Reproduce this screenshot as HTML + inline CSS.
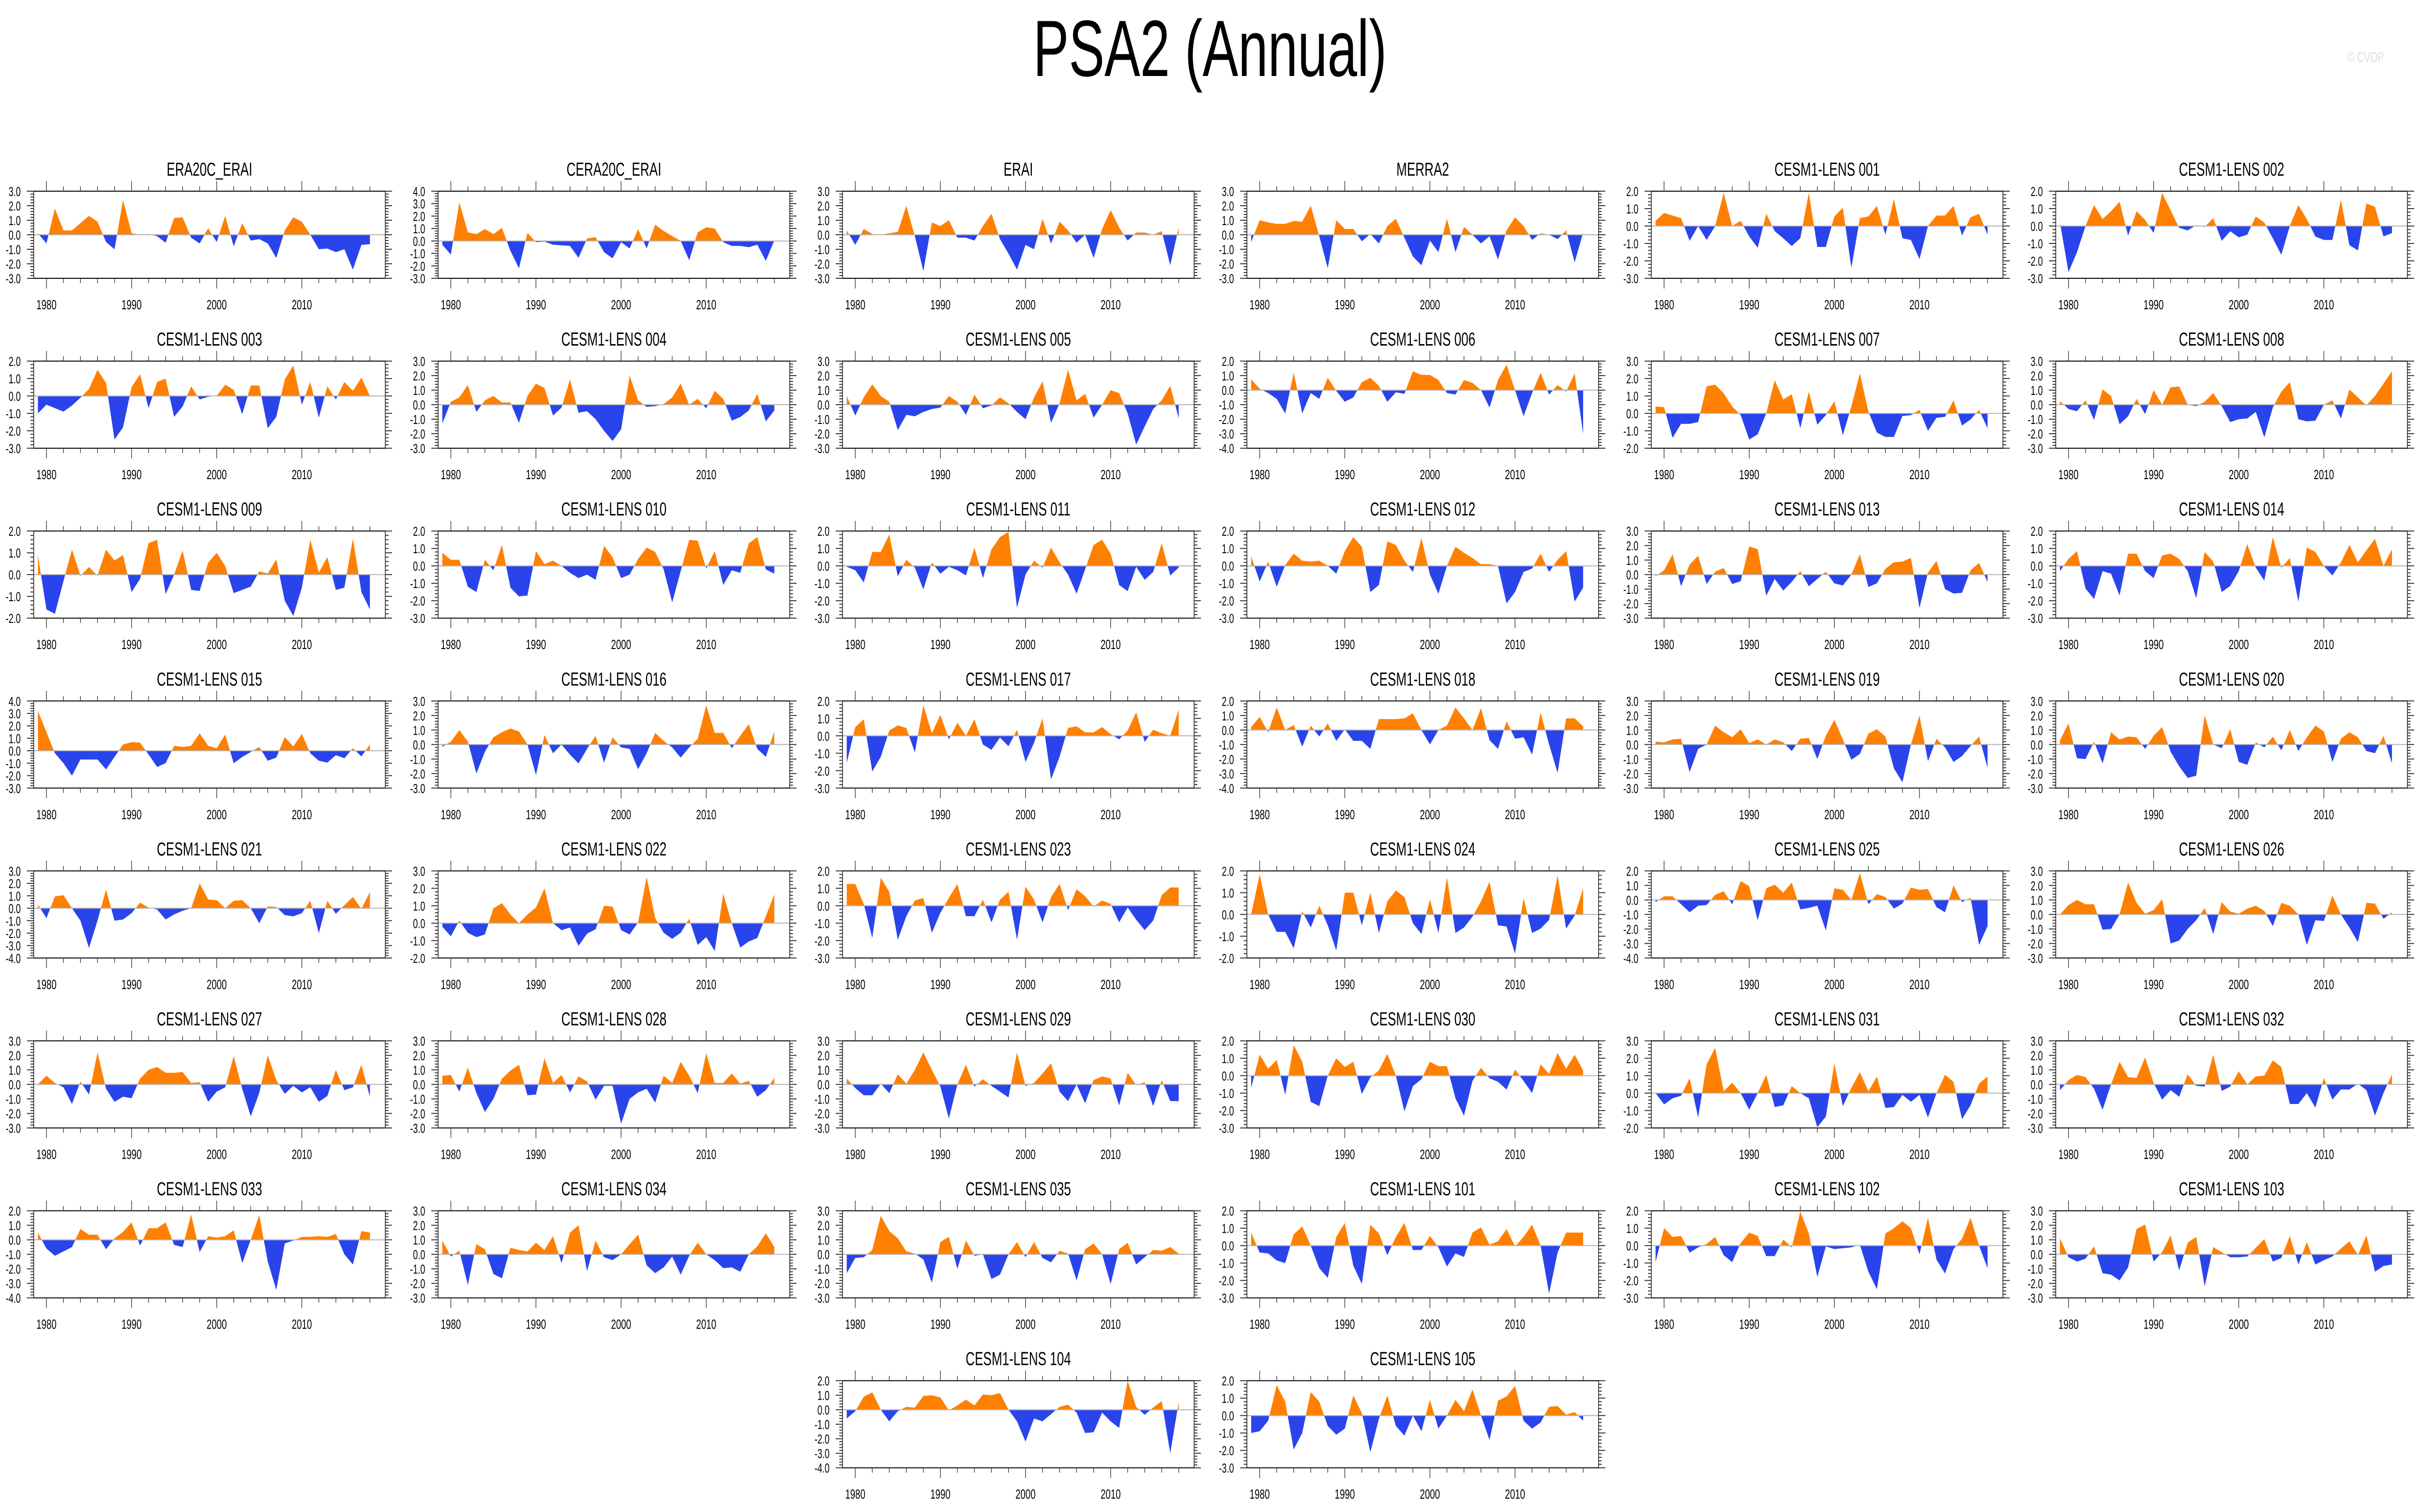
<!DOCTYPE html>
<html><head><meta charset="utf-8"><title>PSA2 (Annual)</title>
<style>
html,body{margin:0;padding:0;background:#fff;overflow:hidden;width:100%;height:100%;}
svg{display:block;font-family:"Liberation Sans",sans-serif;width:100vw;height:100vh;}
</style></head>
<body>
<svg id="chart" viewBox="0 0 7468 3124" preserveAspectRatio="none" xmlns="http://www.w3.org/2000/svg">
<rect x="0" y="0" width="7468" height="3124" fill="#fff"/>
<text x="3734" y="157" text-anchor="middle" font-size="165" fill="#000">PSA2 (Annual)</text>
<text x="7300" y="128" text-anchor="middle" font-size="30" fill="#dcdcdc">© CVDP</text>
<g id="panels"></g>
</svg>
<script>
const years = [1979,1980,1981,1982,1983,1984,1985,1986,1987,1988,1989,1990,1991,1992,1993,1994,1995,1996,1997,1998,1999,2000,2001,2002,2003,2004,2005,2006,2007,2008,2009,2010,2011,2012,2013,2014,2015,2016,2017,2018];
const xTickLabels = [1980,1990,2000,2010];
const panelNames = ["ERA20C_ERAI","CERA20C_ERAI","ERAI","MERRA2","CESM1-LENS 001","CESM1-LENS 002","CESM1-LENS 003","CESM1-LENS 004","CESM1-LENS 005","CESM1-LENS 006","CESM1-LENS 007","CESM1-LENS 008","CESM1-LENS 009","CESM1-LENS 010","CESM1-LENS 011","CESM1-LENS 012","CESM1-LENS 013","CESM1-LENS 014","CESM1-LENS 015","CESM1-LENS 016","CESM1-LENS 017","CESM1-LENS 018","CESM1-LENS 019","CESM1-LENS 020","CESM1-LENS 021","CESM1-LENS 022","CESM1-LENS 023","CESM1-LENS 024","CESM1-LENS 025","CESM1-LENS 026","CESM1-LENS 027","CESM1-LENS 028","CESM1-LENS 029","CESM1-LENS 030","CESM1-LENS 031","CESM1-LENS 032","CESM1-LENS 033","CESM1-LENS 034","CESM1-LENS 035","CESM1-LENS 101","CESM1-LENS 102","CESM1-LENS 103","CESM1-LENS 104","CESM1-LENS 105"];
const yMins = [-3,-3,-3,-3,-3,-3, -3,-3,-3,-4,-2,-3, -2,-3,-3,-3,-3,-3, -3,-3,-3,-4,-3,-3, -4,-2,-3,-2,-4,-3, -3,-3,-3,-3,-2,-3, -4,-3,-3,-3,-3,-3, -4,-3];
const yMaxs = [3,4,3,3,2,2, 2,3,3,2,3,3, 2,2,2,2,3,2, 4,3,2,2,3,3, 3,3,2,2,2,3, 3,3,3,2,3,3, 2,3,3,2,2,3, 2,2];

const s_era20c = [0.1,-0.6,1.8,0.3,0.3,0.8,1.3,0.9,-0.5,-1.0, 2.4,0.1,0.0,0.05,-0.1,-0.55,1.15,1.2,-0.2,-0.6, 0.45,-0.5,1.3,-0.8,0.8,-0.4,-0.3,-0.6,-1.6,0.3, 1.2,0.9,0.0,-1.0,-0.95,-1.2,-1.0,-2.4,-0.7,-0.65];
const s_cera20c = [-0.3,-1.1,3.1,0.7,0.55,0.95,0.55,1.05,-0.8,-2.2, 0.65,-0.1,-0.05,-0.3,-0.35,-0.4,-1.35,0.2,0.3,-0.9, -1.4,-0.1,-0.6,0.95,-0.6,1.3,0.8,0.4,0.0,-1.55, 0.7,1.1,1.0,-0.1,-0.4,-0.4,-0.5,-0.3,-1.6,0.05];
const s_erai = [0.3,-0.7,0.4,0.05,0.0,0.1,0.2,2.0,-0.1,-2.5, 0.85,0.6,1.0,-0.2,-0.2,-0.4,0.6,1.45,-0.3,-1.3, -2.4,-0.7,-1.0,1.1,-0.6,0.9,0.3,-0.55,0.0,-1.6, 0.4,1.7,0.5,-0.4,0.15,0.15,0.0,0.25,-2.1,0.5];
const s_merra2 = [-0.5,1.0,0.85,0.75,0.75,0.95,0.9,2.0,-0.1,-2.3, 1.0,0.4,0.4,-0.45,0.05,-0.6,0.6,1.1,-0.2,-1.5, -2.1,-0.4,-1.2,1.1,-1.2,0.55,0.0,-0.6,-0.1,-1.7, 0.3,1.2,0.6,-0.35,0.1,0.0,-0.3,0.3,-1.9,0.15];
const s_001 = [0.3,0.75,0.6,0.45,-0.85,0.0,-0.8,0.0,1.9,0.0, 0.3,-0.6,-1.25,0.7,-0.3,-0.7,-1.15,-0.7,1.9,-1.2, -1.2,0.55,1.05,-2.4,0.45,0.55,1.15,-0.5,1.55,-0.7, -0.8,-1.9,0.0,0.6,0.6,1.15,-0.55,0.5,0.7,-0.5];
const s_002 = [0.2,-2.65,-1.5,0.0,1.2,0.4,0.85,1.4,-0.55,0.85, 0.35,-0.4,1.9,0.9,-0.1,-0.25,0.05,-0.05,0.45,-0.85, -0.3,-0.65,-0.5,0.55,0.2,-0.7,-1.65,0.0,1.2,0.4, -0.6,-0.8,-0.8,1.5,-1.1,-1.4,1.3,1.1,-0.6,-0.4];
const s_003 = [-1.0,-0.5,-0.7,-0.9,-0.55,-0.1,0.4,1.5,0.75,-2.5, -1.8,0.5,1.25,-0.7,0.8,1.0,-1.2,-0.6,0.55,-0.2, -0.05,0.0,0.65,0.35,-1.05,0.6,0.6,-1.85,-1.2,0.95, 1.75,-0.5,0.8,-1.25,0.55,-0.2,0.8,0.3,1.05,0.0];
const s_004 = [-1.3,0.2,0.5,1.35,-0.5,0.3,0.6,0.15,0.15,-1.25, 0.6,1.45,1.15,-0.75,-0.2,1.75,-0.55,-0.45,-1.0,-1.8, -2.5,-1.7,2.0,0.3,-0.15,-0.1,0.05,0.5,1.45,0.0, 0.4,-0.25,0.95,0.4,-1.1,-0.85,-0.4,0.75,-1.15,-0.4];
const s_005 = [0.6,-0.75,0.5,1.4,0.6,0.2,-1.75,-0.7,-0.8,-0.5, -0.3,-0.2,0.6,0.2,-0.7,0.7,-0.25,-0.05,0.5,0.1, -0.5,-1.0,0.5,1.6,-1.25,0.1,2.4,0.3,0.75,-0.9, 0.0,1.0,0.8,-0.6,-2.75,-1.5,-0.3,0.3,1.3,-0.95];
const s_006 = [0.75,0.1,-0.2,-0.6,-1.6,1.2,-1.6,-0.2,-0.6,0.85, -0.05,-0.8,-0.5,0.55,0.85,0.3,-0.8,-0.15,-0.25,1.3, 1.05,1.05,0.7,-0.2,-0.3,0.7,0.5,0.0,-1.2,0.7, 1.75,0.0,-1.8,-0.2,1.2,-0.3,0.35,-0.1,1.15,-3.0];
const s_007 = [0.4,0.35,-1.4,-0.6,-0.6,-0.5,1.55,1.65,1.15,0.4, -0.1,-1.5,-1.2,0.0,1.9,0.8,1.1,-0.85,1.25,-0.65, -0.1,0.7,-1.25,0.4,2.3,0.1,-1.1,-1.35,-1.35,-0.15, -0.1,0.2,-1.0,-0.25,-0.2,0.75,-0.7,-0.35,0.2,-0.85];
const s_008 = [0.25,-0.3,-0.45,0.3,-1.05,1.05,0.6,-1.35,-0.8,0.4, -0.65,1.0,0.0,1.2,1.25,0.0,-0.1,0.2,0.8,-0.1, -1.2,-1.0,-0.95,-0.5,-2.25,-0.2,0.9,1.55,-1.0,-1.15, -1.1,0.0,0.3,-0.95,1.05,0.5,-0.05,0.6,1.45,2.3];
const s_009 = [0.9,-1.6,-1.8,-0.3,1.15,-0.05,0.35,-0.05,1.15,0.65, 0.9,-0.8,-0.2,1.45,1.6,-0.9,0.0,1.1,-0.7,-0.75, 0.55,1.0,0.4,-0.85,-0.7,-0.55,0.15,0.05,0.7,-1.2, -1.9,-0.6,1.6,0.1,0.8,-0.7,-0.6,1.65,-0.8,-1.6];
const s_010 = [0.75,0.35,0.35,-1.2,-1.5,0.35,-0.25,1.2,-1.25,-1.75, -1.7,0.85,0.1,0.3,0.0,-0.4,-0.7,-0.5,-0.8,1.15, 0.5,-0.7,-0.5,0.4,1.05,0.8,-0.2,-2.1,-0.3,1.5, 1.45,-0.15,0.85,-1.1,-0.25,-0.4,1.3,1.65,-0.2,-0.45];
const s_011 = [-0.05,-0.25,-0.95,0.8,0.8,1.8,-0.6,0.35,-0.1,-1.35, 0.2,-0.45,-0.05,-0.25,-0.55,1.05,-0.7,0.95,1.65,1.95, -2.4,-0.5,0.3,-0.1,1.05,0.2,-0.5,-1.6,-0.2,1.2, 1.5,0.7,-1.1,-1.45,-0.05,-0.8,-0.35,1.3,-0.55,-0.1];
const s_012 = [0.55,-0.9,0.25,-1.2,0.05,0.7,0.3,0.25,0.3,0.0, -0.45,0.85,1.65,1.1,-1.5,-1.1,1.4,1.2,0.3,-0.35, 1.6,-0.5,-1.6,0.0,1.1,0.75,0.45,0.1,0.1,0.0, -2.15,-1.5,-0.35,-0.15,0.7,-0.35,0.35,0.85,-2.05,-1.25];
const s_013 = [-0.1,0.3,1.4,-0.8,0.7,1.3,-0.65,0.2,0.45,-0.65, -0.45,1.95,1.75,-1.45,-0.3,-1.1,-0.5,0.25,-0.8,-0.3, 0.2,-0.6,-0.75,0.0,1.4,-0.85,-0.6,0.4,0.85,0.9, 1.15,-2.3,0.15,0.95,-1.0,-1.3,-1.25,0.3,0.8,-0.5];
const s_014 = [-0.3,0.4,0.85,-1.3,-1.9,-0.3,-0.45,-1.7,0.7,0.7, -0.3,-0.7,0.6,0.7,0.4,-0.3,-1.85,0.8,0.25,-1.5, -1.15,-0.3,1.25,-0.1,-0.85,1.65,-0.1,0.45,-2.05,1.05, 0.8,0.0,-0.55,0.2,1.2,0.2,0.9,1.55,0.0,0.95];
const s_015 = [3.2,1.5,-0.2,-1.0,-2.0,-0.7,-0.7,-0.7,-1.5,-0.5, 0.5,0.7,0.65,-0.3,-1.3,-1.0,0.4,0.3,0.4,1.4, 0.4,0.2,1.3,-1.0,-0.5,-0.1,0.3,-0.8,-0.55,1.1, 0.35,1.35,-0.2,-0.8,-0.95,-0.35,-0.6,0.2,-0.45,0.5];
const s_016 = [-0.15,0.2,1.0,0.2,-2.0,-0.5,0.5,0.85,1.1,0.9, 0.0,-2.1,0.65,-0.6,0.0,-0.7,-1.3,-0.3,0.6,-1.25, 0.5,-0.2,-0.3,-1.7,-0.6,0.8,0.25,-0.2,-0.9,-0.2, 0.4,2.7,0.8,0.8,-0.25,0.6,1.4,-0.3,-0.85,0.9];
const s_017 = [-1.55,0.5,0.95,-2.05,-1.2,0.3,0.6,0.45,-0.95,1.75, 0.15,1.2,-0.2,0.75,0.0,0.95,-0.5,-0.8,-0.1,-0.6, 0.35,-1.5,-0.4,1.0,-2.5,-1.2,0.45,0.55,0.2,0.2, 0.5,0.1,-0.2,0.3,1.35,-0.35,0.35,0.15,0.0,1.5];
const s_018 = [0.2,0.9,-0.15,1.55,0.0,0.35,-1.15,0.3,-0.45,0.45, -0.75,0.05,-0.75,-0.75,-1.3,0.75,0.75,0.75,0.8,1.15, 0.0,-1.0,0.0,0.3,1.55,0.8,0.0,1.5,-0.7,-1.3, 0.6,-0.6,-0.5,-1.7,1.2,-1.0,-2.95,0.8,0.8,0.25];
const s_019 = [0.2,0.15,0.35,0.4,-1.9,-0.3,0.0,1.3,0.85,0.5, 1.05,0.1,0.35,0.0,0.35,0.15,-0.45,0.4,0.45,-1.0, 0.6,1.7,0.35,-1.05,-0.65,0.75,1.05,0.55,-1.65,-2.6, 0.0,2.0,-1.15,0.4,-0.2,-1.2,-0.8,-0.1,0.55,-1.6];
const s_020 = [0.3,1.45,-0.95,-1.0,0.2,-1.3,0.85,0.35,0.55,0.5, -0.3,0.6,1.2,-0.5,-1.5,-2.3,-2.15,2.0,0.0,-0.25, 1.05,-1.2,-1.4,0.15,-0.2,0.55,-0.4,1.0,-0.45,0.5, 1.3,0.9,-1.2,0.4,0.85,0.5,-0.45,-0.6,0.6,-1.3];
const s_021 = [0.3,-0.8,0.95,1.05,0.0,-1.0,-3.2,-1.0,1.5,-1.0, -0.9,-0.4,0.45,0.05,-0.1,-0.9,-0.5,-0.2,0.0,2.0, 0.7,0.65,0.0,0.6,0.65,0.0,-1.2,0.15,0.1,-0.55, -0.65,-0.4,0.6,-2.0,0.6,-0.45,0.25,0.9,-0.05,1.3];
const s_022 = [-0.2,-0.75,0.15,-0.55,-0.8,-0.65,0.85,1.15,0.5,0.0, 0.5,0.9,2.0,0.0,-0.4,-0.25,-1.3,-0.6,-0.35,1.0, 0.95,-0.4,-0.65,0.05,2.65,0.3,-0.55,-0.9,-0.55,0.25, -1.25,-0.8,-1.6,1.7,0.0,-1.4,-1.05,-0.85,0.4,1.65];
const s_023 = [1.25,1.25,0.1,-1.85,1.6,0.8,-1.95,-0.6,0.3,0.45, -1.55,-0.4,0.45,1.25,-0.6,-0.6,0.35,-0.95,0.35,0.8, -1.95,1.1,0.35,-0.95,0.5,1.25,-0.25,0.95,0.55,-0.05, 0.3,0.1,-0.95,-0.1,-0.8,-1.4,-0.85,0.6,1.05,1.05];
const s_024 = [0.0,1.85,0.0,-0.8,-0.8,-1.55,0.15,-0.6,0.4,-0.5, -1.65,1.0,1.0,-0.5,1.0,-0.85,0.6,1.1,0.8,-0.4, -0.9,0.7,-0.85,1.7,-0.85,-0.6,-0.1,0.6,1.5,-0.5, -0.55,-1.8,0.75,-0.85,-0.65,-0.25,1.8,-0.65,-0.05,1.2];
const s_025 = [-0.15,0.25,0.25,-0.3,-0.85,-0.4,-0.35,0.35,0.6,-0.3, 1.3,0.95,-1.4,0.8,1.05,0.5,1.2,-0.65,-0.55,-0.4, -2.1,0.8,0.7,0.0,1.85,-0.3,0.4,0.2,-0.6,-0.25, 0.85,0.7,0.75,-0.5,-0.85,1.0,-0.15,0.15,-3.1,-1.8];
const s_026 = [0.0,0.65,1.0,0.7,0.7,-1.05,-1.0,0.0,2.2,0.8, 0.05,0.3,1.05,-2.0,-1.8,-1.0,-0.4,0.45,-1.35,0.85, 0.2,0.05,0.4,0.6,0.25,-0.8,0.8,0.6,0.0,-2.1, -0.4,-0.45,1.3,0.0,-0.9,-1.9,0.8,0.75,-0.3,0.15];
const s_027 = [0.0,0.6,0.1,-0.2,-1.35,0.2,-0.7,2.2,-0.3,-1.2, -0.85,-0.95,0.4,1.0,1.2,0.8,0.8,0.85,0.1,0.15, -1.2,-0.5,-0.2,1.95,-0.3,-2.2,-0.6,2.0,0.3,-0.65, -0.1,-0.55,-0.2,-1.2,-0.8,1.0,-0.4,-0.2,1.35,-0.85];
const s_028 = [0.6,0.65,-0.5,1.15,-0.6,-1.9,-1.0,0.4,0.95,1.35, -0.75,-0.7,1.8,0.1,0.65,-0.55,0.55,0.2,-1.05,-0.1, -0.1,-2.7,-1.0,-0.55,-0.3,-1.25,0.6,0.1,1.55,0.6, -0.6,2.15,0.1,0.1,0.75,0.05,0.25,-0.85,-0.4,0.45];
const s_029 = [0.4,-0.25,-0.75,-0.75,0.05,-0.6,0.7,0.05,1.0,2.2, 1.0,-0.15,-2.35,0.0,1.35,-0.15,0.35,-0.1,-0.5,-0.9, 2.2,-0.1,0.1,0.75,1.45,-0.5,-1.15,0.0,-1.3,0.3, 0.55,0.4,-1.45,0.8,-0.05,0.15,-1.5,0.3,-1.15,-1.15];
const s_030 = [-0.7,1.2,0.4,0.9,-1.1,1.75,0.8,-1.5,-1.75,0.0, 1.0,0.5,0.8,-1.05,-0.1,0.3,1.25,0.0,-2.05,-0.6, -0.2,0.8,0.55,0.55,-1.3,-2.3,-0.3,0.45,-0.15,-0.35, -0.8,0.35,-0.3,-1.0,0.65,0.1,1.3,0.4,1.2,0.3];
const s_031 = [0.0,-0.65,-0.3,-0.15,0.85,-1.4,1.65,2.6,0.1,0.6, 0.0,-0.95,0.0,1.05,-0.8,-0.7,0.4,0.0,-0.3,-1.95, -1.35,1.7,-0.75,0.3,1.2,0.1,0.95,-0.85,-0.8,-0.1, -0.5,-0.1,-1.4,0.0,1.05,0.65,-1.5,-0.7,0.55,0.95];
const s_032 = [-0.4,0.3,0.65,0.5,-0.3,-1.75,0.0,1.55,0.5,0.45, 1.85,0.1,-1.05,-0.4,-0.85,0.7,-0.1,-0.15,2.05,-0.45, -0.15,0.9,0.0,0.55,0.6,1.65,1.2,-1.35,-1.35,-0.6, -1.6,0.45,-1.05,-0.35,-0.35,0.05,-0.4,-2.15,-0.6,0.7];
const s_033 = [0.5,-0.6,-1.1,-0.8,-0.5,0.75,0.35,0.35,-0.65,0.1, 0.55,1.2,-0.4,0.8,0.8,1.2,-0.35,-0.5,1.75,-0.85, 0.25,0.15,0.25,0.65,-1.6,0.0,1.7,-1.5,-3.45,-0.25, -0.05,0.2,0.2,0.25,0.2,0.4,-1.0,-1.7,0.6,0.5];
const s_034 = [0.95,-0.15,0.25,-2.1,0.7,0.35,-1.35,-1.65,0.45,0.3, 0.2,0.8,0.3,1.25,-0.6,1.5,2.0,-1.15,0.95,-0.2, -0.4,0.0,0.7,1.35,-0.75,-1.3,-0.9,-0.15,-1.4,-0.1, 0.8,0.0,-0.4,-0.95,-0.9,-1.2,0.0,0.55,1.45,0.5];
const s_035 = [-1.3,-0.25,-0.2,0.3,2.65,1.6,1.1,0.2,0.05,-0.35, -1.95,0.85,1.2,-1.0,0.95,-0.1,0.0,-1.7,-1.4,0.0, 0.85,-0.2,0.85,-0.25,-0.55,0.25,0.05,-1.8,0.35,0.75, 0.0,-2.05,0.35,0.8,-0.7,-0.2,0.3,0.25,0.5,0.05];
const s_101 = [0.75,-0.4,-0.45,-0.85,-1.0,0.65,1.1,0.0,-1.3,-1.85, 0.5,1.3,-1.15,-2.2,1.2,0.7,-0.55,0.5,1.3,-0.25, -0.25,0.55,-0.1,-1.2,-0.45,-0.65,0.75,1.05,0.05,0.25, 0.95,-0.05,0.5,1.2,0.0,-2.75,-0.4,0.75,0.75,0.75];
const s_102 = [-0.95,1.0,0.5,0.55,-0.4,-0.1,0.1,0.5,-0.55,-0.95, 0.15,0.75,0.55,-0.6,-0.6,0.35,-0.1,1.95,0.7,-1.8, -0.05,-0.2,-0.15,-0.1,0.05,-1.5,-2.5,0.7,1.0,1.4, 1.0,-0.5,1.6,-0.8,-1.6,-0.2,0.4,1.6,0.0,-1.3];
const s_103 = [1.1,-0.2,-0.5,-0.3,0.55,-1.3,-1.4,-1.8,-0.9,1.75, 2.05,-0.5,0.15,1.3,-1.1,0.8,1.2,-2.2,0.5,0.15, -0.2,-0.2,-0.15,0.45,1.05,-0.5,-0.25,1.25,-0.7,0.85, -0.7,-0.4,-0.15,0.4,0.9,-0.05,1.3,-1.2,-0.8,-0.7];
const s_104 = [-0.6,-0.1,0.9,1.2,0.0,-0.8,-0.1,0.2,0.15,0.95, 1.0,0.85,-0.05,0.3,0.7,0.3,1.05,1.0,1.15,0.0, -0.8,-2.2,-0.6,-0.8,-0.3,0.2,0.35,-0.2,-1.6,-1.55, -0.2,-0.8,-1.25,2.0,0.2,-0.35,0.15,0.6,-3.0,0.55];
const s_105 = [-1.0,-0.9,-0.3,1.75,0.8,-1.95,-1.0,1.35,0.8,-0.6, -1.1,-0.75,1.15,0.15,-2.1,-0.2,1.15,-0.6,-1.15,0.0, -0.9,0.9,-0.75,0.0,0.9,0.25,1.5,0.0,-1.4,0.85, 1.1,1.7,-0.3,-0.75,-0.4,0.5,0.55,0.05,0.2,-0.3];

const panelSeries = [s_era20c,s_cera20c,s_erai,s_merra2,s_001,s_002,s_003,s_004,s_005,s_006,s_007,s_008,s_009,s_010,s_011,s_012,s_013,s_014,s_015,s_016,s_017,s_018,s_019,s_020,s_021,s_022,s_023,s_024,s_025,s_026,s_027,s_028,s_029,s_030,s_031,s_032,s_033,s_034,s_035,s_101,s_102,s_103,s_104,s_105];

const NS = "http://www.w3.org/2000/svg";
const root = document.getElementById("panels");
const FW = 1085, FH = 180, COLP = 1248, ROWP = 351.1, L0 = 104, T0 = 395;
const yearStep = 26.27;

function mk(tag, attrs, parent) {
  const e = document.createElementNS(NS, tag);
  for (const k in attrs) e.setAttribute(k, attrs[k]);
  parent.appendChild(e);
  return e;
}

panelNames.forEach(function (name, i) {
  let row, col;
  if (i < 42) { row = Math.floor(i / 6); col = i % 6; }
  else { row = 7; col = 2 + (i - 42); }
  const L = L0 + col * COLP, T = T0 + row * ROWP;
  const ymin = yMins[i], ymax = yMaxs[i], vals = panelSeries[i];
  const xs = function (yr) { return L + 13 + (yr - years[0]) * yearStep; };
  const ys = function (v) { return T + (ymax - v) / (ymax - ymin) * FH; };
  const y0 = ys(0);

  const g = mk("g", {}, root);
  
  

  const title = mk("text", {x: L + FW / 2, y: T - 32, "text-anchor": "middle", "font-size": 39, fill: "#000"}, g);
  title.textContent = name;
  
  

  const cid = "c" + i;
  const defs = mk("defs", {}, g);
  const cpPos = mk("clipPath", {id: cid + "p"}, defs);
  mk("rect", {x: L, y: T, width: FW, height: y0 - T}, cpPos);
  const cpNeg = mk("clipPath", {id: cid + "n"}, defs);
  mk("rect", {x: L, y: y0, width: FW, height: T + FH - y0}, cpNeg);

  let d = "M" + xs(years[0]).toFixed(1) + "," + y0.toFixed(1);
  vals.forEach(function (v, k) { d += " L" + xs(years[k]).toFixed(1) + "," + ys(v).toFixed(1); });
  d += " L" + xs(years[vals.length - 1]).toFixed(1) + "," + y0.toFixed(1) + " Z";

  const pos = mk("path", {d: d, fill: "#ff8000", "clip-path": "url(#" + cid + "p)"}, g);
  
  
  const neg = mk("path", {d: d, fill: "#2a44ec", "clip-path": "url(#" + cid + "n)"}, g);
  
  

  const zl = mk("line", {x1: L, x2: L + FW, y1: y0, y2: y0, stroke: "#b4b4b4", "stroke-width": 2}, g);
  
  

  const fr = mk("rect", {x: L, y: T, width: FW, height: FH, fill: "none", stroke: "#000", "stroke-width": 2}, g);
  
  

  const yt = mk("g", {stroke: "#333", "stroke-width": 2}, g);
  
  
  for (let m = Math.round(ymin * 5); m <= Math.round(ymax * 5); m++) {
    const v = m / 5, yy = ys(v), major = (m % 5 === 0);
    const len = major ? 21 : 10;
    mk("line", {x1: L - len, x2: L, y1: yy, y2: yy}, yt);
    mk("line", {x1: L + FW, x2: L + FW + len, y1: yy, y2: yy}, yt);
    if (major) {
      const lb = mk("text", {x: L - 40, y: yy + 10, "text-anchor": "end", "font-size": 27, fill: "#000", stroke: "none"}, g);
      lb.textContent = v.toFixed(1);
      
      
    }
  }
  const xt = mk("g", {stroke: "#333", "stroke-width": 2}, g);
  
  
  for (let yr = 1980; yr <= 2018; yr += 2) {
    const xx = xs(yr), major = (yr % 10 === 0);
    const len = major ? 21 : 10;
    mk("line", {x1: xx, x2: xx, y1: T - len, y2: T}, xt);
    mk("line", {x1: xx, x2: xx, y1: T + FH, y2: T + FH + len}, xt);
  }
  xTickLabels.forEach(function (yr) {
    const lb = mk("text", {x: xs(yr), y: T + FH + 64, "text-anchor": "middle", "font-size": 28, fill: "#000"}, g);
    lb.textContent = String(yr);
    
    
  });
});
</script>
</body></html>
